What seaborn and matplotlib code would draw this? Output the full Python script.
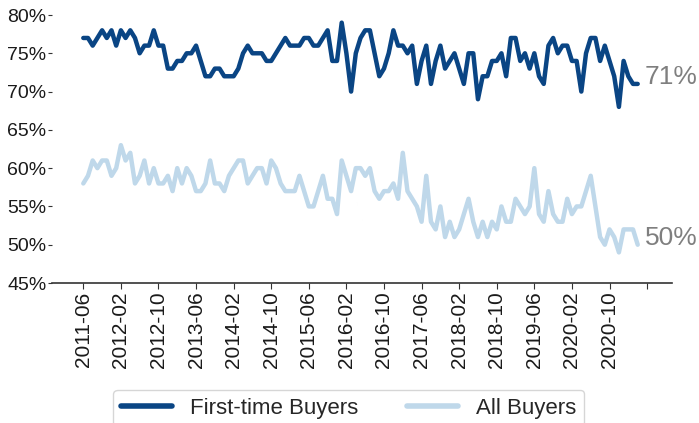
import numpy as np
import pandas as pd
import matplotlib
matplotlib.use('Agg')
import matplotlib.pyplot as plt
import seaborn as sns

# monthly share of buyers (%), 2011-06 .. 2021-04
first_time = [77, 77, 76, 77, 78, 77, 78, 76, 78, 77, 78, 77, 75, 76, 76, 78, 76, 76, 73, 73,
              74, 74, 75, 75, 76, 74, 72, 72, 73, 73, 72, 72, 72, 73, 75, 76, 75, 75, 75, 74,
              74, 75, 76, 77, 76, 76, 76, 77, 77, 76, 76, 77, 78, 74, 74, 79, 75, 70, 75, 77,
              78, 78, 75, 72, 73, 75, 78, 76, 76, 75, 76, 71, 74, 76, 71, 74, 76, 73, 74, 75,
              73, 71, 75, 75, 69, 72, 72, 74, 74, 75, 72, 77, 77, 74, 75, 73, 75, 72, 71, 76,
              77, 75, 76, 76, 74, 74, 70, 75, 77, 77, 74, 76, 74, 72, 68, 74, 72, 71, 71]
all_buyers = [58, 59, 61, 60, 61, 61, 59, 60, 63, 61, 62, 58, 59, 61, 58, 60, 58, 58, 59, 57,
              60, 58, 60, 59, 57, 57, 58, 61, 58, 58, 57, 59, 60, 61, 61, 58, 59, 60, 60, 58,
              61, 60, 58, 57, 57, 57, 59, 57, 55, 55, 57, 59, 56, 56, 54, 61, 59, 57, 60, 60,
              59, 60, 57, 56, 57, 57, 58, 56, 62, 57, 56, 55, 53, 59, 53, 52, 55, 51, 53, 51,
              52, 54, 56, 53, 51, 53, 51, 53, 52, 55, 53, 53, 56, 55, 54, 55, 60, 54, 53, 57,
              54, 53, 53, 56, 54, 55, 55, 57, 59, 55, 51, 50, 52, 51, 49, 52, 52, 52, 50]

tick_labels = ['2011-06', '2012-02', '2012-10', '2013-06', '2014-02', '2014-10', '2015-06',
               '2016-02', '2016-10', '2017-06', '2018-02', '2018-10', '2019-06', '2020-02',
               '2020-10', '']
series_names = ['First-time Buyers', 'All Buyers']
colors = ['#0a4584', '#bfd8ea']

months = np.arange(len(first_time))
df = pd.concat([
    pd.DataFrame({'month': months, 'value': first_time, 'series': series_names[0]}),
    pd.DataFrame({'month': months, 'value': all_buyers, 'series': series_names[1]}),
])

sns.set_style('white')
plt.rcParams['font.family'] = ['Liberation Sans', 'DejaVu Sans']

fig = plt.figure(figsize=(6.99, 4.23), dpi=100)
ax = fig.add_axes([52 / 699, 1 - 283 / 423, 620 / 699, 268 / 423])

sns.lineplot(data=df, x='month', y='value', hue='series', palette=colors,
             linewidth=3.2, ax=ax)

ax.set_xlim(-6.66, 125.3)
ax.set_ylim(45, 80)
ax.set_xticks(np.arange(0, 8 * len(tick_labels), 8))
ax.set_xticklabels(tick_labels, rotation=90, fontsize=15, color='#1a1a1a')
yt = np.arange(45, 81, 5)
ax.set_yticks(yt)
ax.set_yticklabels([f'{v}%' for v in yt], fontsize=14, color='#1a1a1a')
ax.tick_params(axis='y', length=3, width=0.8, color='#333333', pad=1, left=True)
ax.tick_params(axis='x', length=4, width=0.8, color='#333333', pad=2, bottom=True)
ax.set_xlabel('')
ax.set_ylabel('')
for s in ['top', 'right', 'left']:
    ax.spines[s].set_visible(False)
ax.spines['bottom'].set_color('#333333')
ax.spines['bottom'].set_linewidth(1.2)

# end labels
ax.text(months[-1] + 1.5, first_time[-1], f'{first_time[-1]}%', va='baseline',
        ha='left', fontsize=19, color='#7f7f7f')
ax.text(months[-1] + 1.5, all_buyers[-1], f'{all_buyers[-1]}%', va='baseline',
        ha='left', fontsize=19, color='#7f7f7f')

handles = ax.get_legend().legend_handles
ax.get_legend().remove()
leg = fig.legend(handles, series_names, loc='upper center', bbox_to_anchor=(0.499, 1 - 390 / 423),
                 ncol=2, frameon=True, fontsize=16, handlelength=2.3, columnspacing=2.2,
                 handletextpad=0.8, borderpad=0.35, borderaxespad=0)
leg.get_frame().set_edgecolor('#cccccc')
for line in leg.get_lines():
    line.set_linewidth(4)

fig.savefig('out.png', dpi=100)
